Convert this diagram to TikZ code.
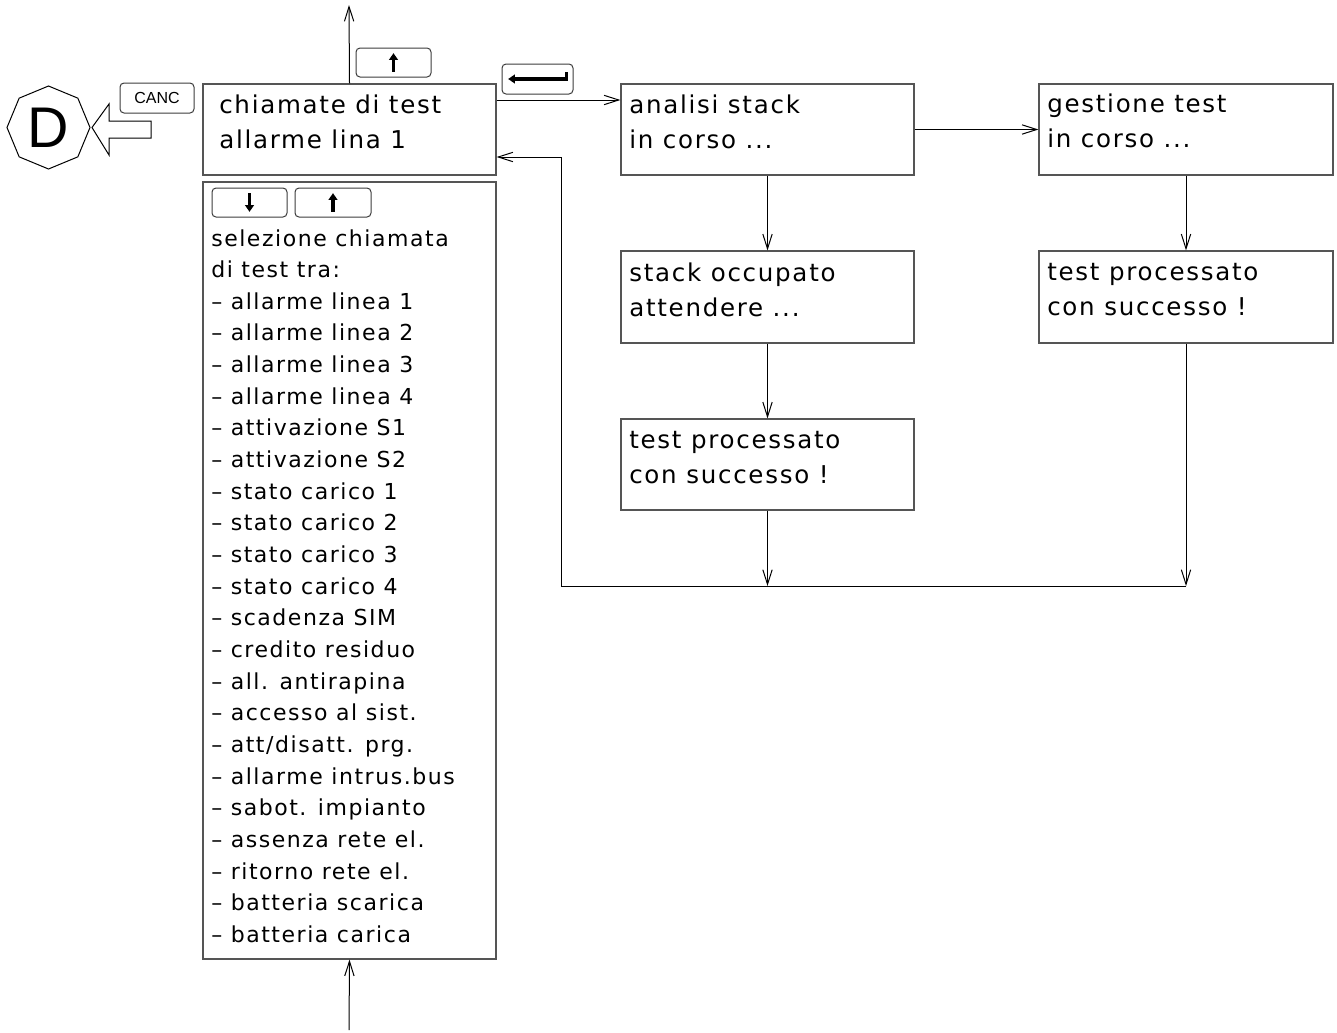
\documentclass[tikz,border=0pt]{standalone}
\usepackage{fontspec}
\setmainfont{DejaVu Sans}
\newfontfamily\labfont[LetterSpace=7]{DejaVu Sans}
\newfontfamily\helv{Liberation Sans}
\usetikzlibrary{arrows.meta,shapes.geometric}
\definecolor{bordergray}{RGB}{85,85,85}
\definecolor{keygray}{RGB}{60,60,60}
\begin{document}
\begin{tikzpicture}[x=0.75pt,y=-0.75pt,
  box/.style={draw=bordergray, line width=0.9pt, inner sep=0, minimum width=219.75pt, minimum height=68.25pt},
  keybox/.style={draw=keygray, line width=0.75pt, rounded corners=3pt, inner sep=0, minimum width=56.25pt, minimum height=21.75pt},
  arr/.style={-{Straight Barb[length=11pt,width=7pt]}, line width=0.75pt},
  conn/.style={line width=0.75pt},
  sym/.style={line width=2.3pt, -{Triangle[length=5pt,width=6.5pt]}},
  mtxt/.style={font=\labfont\fontsize{18.4}{18.4}\selectfont, anchor=base west, inner sep=0},
  ltxt/.style={font=\labfont\fontsize{16.5}{16.5}\selectfont, anchor=base west, inner sep=0}
]
\useasboundingbox (0,0) rectangle (1337,1032);

% boxes
\node[box] (main) at (349.5,129.5) {};
\node[box, minimum height=582.75pt] (list) at (349.5,570.5) {};
\node[box] (ana) at (767.5,129.5) {};
\node[box, minimum width=220.5pt] (ges) at (1186,129.5) {};
\node[box, minimum height=69pt] (occ) at (767.5,297) {};
\node[box] (pra) at (767.5,464.5) {};
\node[box, minimum width=220.5pt, minimum height=69pt] (prb) at (1186,297) {};

% box texts
\node[mtxt] (t1) at (219,113.5) {chiamate di test};
\node[mtxt] (t2) at (219,148.5) {allarme lina 1};
\node[mtxt] (a1) at (629,113.5) {analisi stack};
\node[mtxt] (a2) at (629,148.5) {in corso ...};
\node[mtxt] (g1) at (1047,112.5) {gestione test};
\node[mtxt] (g2) at (1047,147.5) {in corso ...};
\node[mtxt] (o1) at (629,281.5) {stack occupato};
\node[mtxt] (o2) at (629,316.5) {attendere ...};
\node[mtxt] (p1) at (629,448.5) {test processato};
\node[mtxt] (p2) at (629,483.5) {con successo !};
\node[mtxt] (q1) at (1047,280.5) {test processato};
\node[mtxt] (q2) at (1047,315.5) {con successo !};

% list text
\foreach \t [count=\i from 0] in {{selezione chiamata},{di test tra:},
  {– allarme linea 1},{– allarme linea 2},{– allarme linea 3},{– allarme linea 4},
  {– attivazione S1},{– attivazione S2},{– stato carico 1},{– stato carico 2},
  {– stato carico 3},{– stato carico 4},{– scadenza SIM},{– credito residuo},
  {– all. antirapina},{– accesso al sist.},{– att/disatt. prg.},{– allarme intrus.bus},
  {– sabot. impianto},{– assenza rete el.},{– ritorno rete el.},{– batteria scarica},
  {– batteria carica}}
  \node[ltxt] (l\i) at (211,246+31.65*\i) {\t};

% keys
\node[keybox] (kup) at (393.5,62.5) {};
\draw[sym] ([yshift=-7pt]kup.center) -- ([yshift=7pt]kup.center);
\node[keybox, minimum width=53.25pt, minimum height=22.5pt] (ent) at (537.5,79) {};
\draw[sym] ([xshift=22pt,yshift=5pt]ent.center) -- ([xshift=22pt]ent.center) -- ([xshift=-22pt]ent.center);
\node[keybox] (kdn) at (249.5,202.5) {};
\draw[sym] ([yshift=7pt]kdn.center) -- ([yshift=-7pt]kdn.center);
\node[keybox, minimum width=57pt] (kup2) at (333,202.5) {};
\draw[sym] ([yshift=-7pt]kup2.center) -- ([yshift=7pt]kup2.center);
\node[keybox, minimum width=55.5pt, minimum height=22.5pt, font=\helv\fontsize{12}{12}\selectfont] (canc) at (157,98) {CANC};

% D octagon and hollow arrow
\node[draw=black, line width=0.75pt, regular polygon, regular polygon sides=8, shape border rotate=22.5,
  minimum size=62.25pt, inner sep=0, font=\helv\fontsize{43}{43}\selectfont] (D) at (48.5,127.5) {D};
\draw[line width=0.75pt] (92,127.5) -- (109,104) -- (109,121) -- (151,121) -- (151,138) -- (109,138) -- (109,155) -- cycle;

% connectors
\coordinate (topend) at (349,5);
\draw[arr] (main.north) -- (topend);
\draw[arr] (main.east |- 0,100) -- (ana.west |- 0,100);
\draw[arr] (ana.east) -- (ges.west);
\draw[arr] (ana.south) -- (occ.north);
\draw[arr] (occ.south) -- (pra.north);
\draw[arr] (ges.south) -- (prb.north);
\coordinate (jl) at (561,586);
\coordinate (jm) at (767.5,586);
\coordinate (jr) at (1186,586);
\draw[arr] (pra.south) -- (jm);
\draw[arr] (prb.south) -- (jr);
\draw[conn] (jr) -- (jl);
\draw[arr] (jl) |- (main.east |- 0,157);
\coordinate (botend) at (349,1030);
\draw[arr] (botend) -- (list.south);
\end{tikzpicture}
\end{document}
